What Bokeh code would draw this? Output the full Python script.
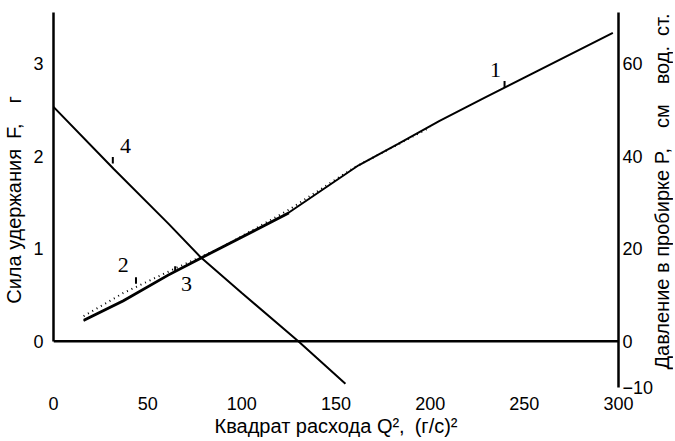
from bokeh.plotting import figure
from bokeh.layouts import row
from bokeh.models import Range1d, LinearAxis, Span, FixedTicker
from bokeh.core.properties import value
from bokeh.embed import file_html
from bokeh.resources import INLINE

# ---- data ----
x_ticks = [0, 50, 100, 150, 200, 250, 300]
f_ticks = [0, 1, 2, 3]
p_ticks = [-10, 0, 20, 40, 60]

# curve 1 (solid, full range)
x1 = [16, 37, 61, 78, 125, 162, 183, 205, 229, 297]
f1 = [0.23, 0.44, 0.72, 0.90, 1.39, 1.90, 2.13, 2.38, 2.63, 3.33]
# curve 2 (dotted)
x2 = [16, 37, 64, 90, 125, 160, 200]
f2 = [0.27, 0.52, 0.78, 1.02, 1.42, 1.88, 2.31]
# curve 3 (solid, lower part)
x3 = [16, 37, 61, 78, 125]
f3 = [0.22, 0.43, 0.71, 0.89, 1.38]
# curve 4 (solid, decreasing)
x4 = [0, 32, 61, 78, 100, 130, 155]
f4 = [2.53, 1.86, 1.27, 0.91, 0.52, 0.0, -0.46]

# curve number labels and their leader ticks
lab_text = ["1", "2", "3", "4"]
lab_x = [234.7, 37.0, 70.6, 38.2]
lab_y = [2.93, 0.82, 0.62, 2.11]
lead_x = [239.5, 43.8, 64.6, 31.5]
lead_y0 = [2.81, 0.69, 0.81, 1.99]
lead_y1 = [2.74, 0.62, 0.75, 1.92]

FONT = "Liberation Sans"
SERIF = "Liberation Serif"
SP = "\u2002"

x_label = "Квадрат расхода Q²," + SP + "(г/с)²"
f_label = "Сила удержания" + SP + "F," + SP + SP + "г"
p_label = "Давление в пробирке P," + SP + SP + "см" + SP + SP + "вод." + SP + "ст."

p = figure(frame_width=565, frame_height=375,
           x_range=Range1d(0, 300), y_range=Range1d(-0.5, 3.55),
           extra_y_ranges={"P": Range1d(-10, 71)},
           output_backend="svg", toolbar_location=None,
           min_border_left=50, min_border_right=0,
           min_border_top=12, min_border_bottom=0)
p.outline_line_color = None
p.grid.visible = False
p.background_fill_color = "white"


def style_axis(ax, label):
    ax.axis_label = label
    ax.axis_label_text_font = FONT
    ax.axis_label_text_font_style = "normal"
    ax.axis_label_text_font_size = "20px"
    ax.axis_label_text_color = "black"
    ax.major_label_text_font = FONT
    ax.major_label_text_font_size = "18px"
    ax.major_label_text_color = "black"
    ax.major_tick_line_color = None
    ax.minor_tick_line_color = None
    ax.major_tick_in = 0
    ax.major_tick_out = 0
    ax.axis_line_width = 2.5
    ax.axis_line_color = "black"


xa = p.xaxis[0]
style_axis(xa, x_label)
xa.ticker = FixedTicker(ticks=x_ticks)
xa.axis_line_color = None
xa.major_label_standoff = 9
xa.axis_label_standoff = 2

ya = p.yaxis[0]
style_axis(ya, f_label)
ya.ticker = FixedTicker(ticks=f_ticks)
ya.bounds = (0, 3.55)
ya.major_label_standoff = 10
ya.axis_label_standoff = 5

ra = LinearAxis(y_range_name="P")
style_axis(ra, None)
ra.ticker = FixedTicker(ticks=p_ticks)
ra.bounds = (-10, 71)
ra.major_label_standoff = 4
p.add_layout(ra, "right")

p.add_layout(Span(location=0, dimension="width", line_color="black", line_width=2.5))

p.line(x4, f4, line_color="black", line_width=2)
p.line(x1, f1, line_color="black", line_width=2)
p.line(x3, f3, line_color="black", line_width=2)
p.line(x2, f2, line_color="black", line_width=2, line_dash="1 4")

p.segment(x0=lead_x, y0=lead_y0, x1=lead_x, y1=lead_y1, line_color="black", line_width=2)
p.text(x=lab_x, y=lab_y, text=lab_text, text_font=value(SERIF), text_font_size="22px",
       text_align="center", text_baseline="middle", text_color="black")

# narrow companion figure carrying the right-hand (pressure) axis title,
# reading bottom-to-top as in the reference
q = figure(frame_width=1, frame_height=358, y_range=Range1d(0, 1), x_range=Range1d(0, 1),
           output_backend="svg", toolbar_location=None,
           min_border_left=0, min_border_right=0, min_border_top=12, min_border_bottom=0)
q.outline_line_color = None
q.grid.visible = False
q.xaxis.visible = False
q.margin = (0, 0, 0, -9)
qa = q.yaxis[0]
style_axis(qa, p_label)
qa.ticker = FixedTicker(ticks=[])
qa.axis_line_color = None
qa.axis_label_standoff = 0
qa.major_label_standoff = 0

layout = row(p, q)
open("out.html", "w").write(file_html(layout, INLINE))
